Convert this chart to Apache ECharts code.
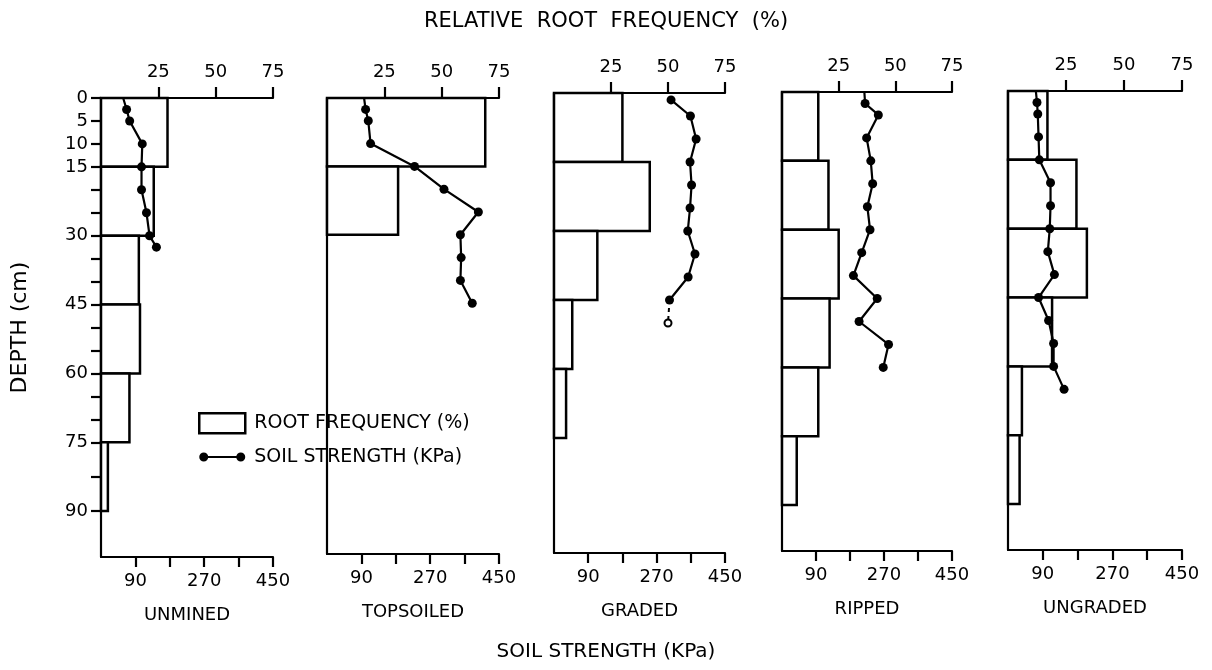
<!DOCTYPE html>
<html>
<head>
<meta charset="utf-8">
<script src="https://cdn.jsdelivr.net/npm/echarts@6/dist/echarts.min.js"></script>
<style>html,body{margin:0;padding:0;background:#fff;}#c{width:1212px;height:670px;}</style>
</head>
<body>
<div id="c"></div>
<script>
// ---------- DATA ----------
const panels = ['UNMINED', 'TOPSOILED', 'GRADED', 'RIPPED', 'UNGRADED'];
const depthBins = [0, 15, 30, 45, 60, 75, 90];          // cm, root-frequency layer bounds
const rootUnmined   = [29, 23, 16.5, 17, 12.4, 3];
const rootTopsoiled = [69, 31];
const rootGraded    = [30, 42, 19, 8, 5.3];
const rootRipped    = [16, 20.5, 25, 21, 16, 6.5];
const rootUngraded  = [17, 29.5, 34, 19, 6, 5];

const soilDepthUnmined = [0, 2.5, 5, 10, 15, 20, 25, 30, 32.5];
const soilUnmined      = [58, 67, 75, 108, 106, 106, 119, 127, 145];
const soilDepthTopsoiled = [0, 2.5, 5, 10, 15, 20, 25, 30, 35, 40, 45];
const soilTopsoiled      = [97, 101, 108, 114, 229, 306, 396, 349, 351, 349, 380];
const soilDepthGraded = [1.5, 5, 10, 15, 20, 25, 30, 35, 40, 45];
const soilGraded      = [308, 359, 374, 358, 362, 358, 352, 371, 353, 304];
const gradedTailDepth = [45, 50];
const gradedTailSoil  = [304, 300];
const soilDepthRipped = [0, 2.5, 5, 10, 15, 20, 25, 30, 35, 40, 45, 50, 55, 60];
const soilRipped      = [218, 220, 255, 224, 235, 240, 226, 233, 211, 189, 252, 204, 282, 268];
const soilDepthUngraded = [0, 2.5, 5, 10, 15, 20, 25, 30, 35, 40, 45, 50, 55, 60, 65];
const soilUngraded      = [72, 75, 77, 79, 81, 110, 110, 108, 103, 120, 79, 105, 118, 118, 145];

const rootTicks = [25, 50, 75];
const soilTicks = [90, 180, 270, 360, 450];
const soilLabels = [90, 270, 450];
const depthTicks = [0, 5, 10, 15, 20, 25, 30, 35, 40, 45, 50, 55, 60, 65, 70, 75, 82.5, 90];
const depthLabels = [0, 5, 10, 15, 30, 45, 60, 75, 90];

const rootAll = [rootUnmined, rootTopsoiled, rootGraded, rootRipped, rootUngraded];
const soilAll = [soilUnmined, soilTopsoiled, soilGraded, soilRipped, soilUngraded];
const soilDepthAll = [soilDepthUnmined, soilDepthTopsoiled, soilDepthGraded, soilDepthRipped, soilDepthUngraded];

// ---------- LAYOUT ----------
const FONT = 'DejaVu Sans';
const gridLeft  = [101, 327, 554, 782, 1008];
const gridWidth = [172, 172, 171, 170, 174];
const gridTop   = [98, 98, 93, 92, 91];
const gridBot   = [557, 554, 553, 551, 550];

const ROOT_NAME = 'ROOT FREQUENCY (%)';
const SOIL_NAME = 'SOIL STRENGTH (KPa)';

const grid = [], xAxis = [], yAxis = [], series = [];
const axisLine = { show: true, onZero: false, lineStyle: { color: '#000', width: 2.2 } };

function renderBar(params, api) {
  const a = api.coord([0, api.value(0)]);
  const b = api.coord([api.value(2), api.value(1)]);
  return {
    type: 'rect',
    shape: { x: a[0], y: a[1], width: b[0] - a[0], height: b[1] - a[1] },
    style: { fill: '#fff', stroke: '#000', lineWidth: 2.5 }
  };
}

panels.forEach((p, i) => {
  grid.push({ left: gridLeft[i], top: gridTop[i], width: gridWidth[i], height: gridBot[i] - gridTop[i] });
  // top axis: relative root frequency
  xAxis.push({
    type: 'value', gridIndex: i, position: 'top', min: 0, max: 75,
    axisLine: axisLine,
    axisTick: { show: true, customValues: rootTicks, length: 11, lineStyle: { color: '#000', width: 2.2 } },
    axisLabel: { show: true, customValues: rootTicks, color: '#000', fontSize: 18, fontFamily: FONT, margin: 17 },
    splitLine: { show: false }
  });
  // bottom axis: soil strength
  xAxis.push({
    type: 'value', gridIndex: i, position: 'bottom', min: 0, max: 450,
    name: p, nameLocation: 'middle', nameGap: 49,
    nameTextStyle: { color: '#000', fontSize: 18, fontFamily: FONT },
    axisLine: axisLine,
    axisTick: { show: true, customValues: soilTicks, length: 10, lineStyle: { color: '#000', width: 2.2 } },
    axisLabel: { show: true, customValues: soilLabels, color: '#000', fontSize: 18, fontFamily: FONT, margin: 15 },
    splitLine: { show: false }
  });
  yAxis.push({
    type: 'value', gridIndex: i, inverse: true, min: 0, max: 100,
    name: i === 0 ? 'DEPTH (cm)' : '', nameLocation: 'middle', nameRotate: 90, nameGap: 70,
    nameTextStyle: { color: '#000', fontSize: 22, fontFamily: FONT },
    axisLine: axisLine,
    axisTick: { show: i === 0, customValues: depthTicks, length: 10, lineStyle: { color: '#000', width: 2.2 } },
    axisLabel: { show: i === 0, customValues: depthLabels, color: '#000', fontSize: 18, fontFamily: FONT, margin: 13 },
    splitLine: { show: false }
  });

  const bars = rootAll[i].map((v, j) => [depthBins[j], depthBins[j + 1], v]);
  series.push({
    type: 'custom', name: ROOT_NAME, xAxisIndex: 2 * i, yAxisIndex: i,
    renderItem: renderBar, data: bars, encode: { x: 2, y: [0, 1] }, z: 2, silent: true
  });

  const pts = soilDepthAll[i].map((d, j) => ({
    value: [soilAll[i][j], d], symbol: d === 0 ? 'none' : 'circle'
  }));
  series.push({
    type: 'line', name: SOIL_NAME, xAxisIndex: 2 * i + 1, yAxisIndex: i,
    data: pts, symbolSize: 9, itemStyle: { color: '#000' },
    lineStyle: { color: '#000', width: 2.2 }, z: 5, silent: true, animation: false
  });
});

// graded: dashed tail to an open point
series.push({
  type: 'line', name: 'tail', xAxisIndex: 5, yAxisIndex: 2,
  data: gradedTailDepth.map((d, j) => ({ value: [gradedTailSoil[j], d], symbol: j === 0 ? 'none' : 'emptyCircle' })),
  symbolSize: 7, itemStyle: { color: '#000', borderWidth: 2 },
  lineStyle: { color: '#000', width: 2, type: [4, 4] }, z: 5, silent: true
});

const option = {
  animation: false,
  backgroundColor: '#fff',
  textStyle: { fontFamily: FONT },
  title: [
    { text: 'RELATIVE  ROOT  FREQUENCY  (%)', left: 'center', top: 6,
      textStyle: { color: '#000', fontSize: 21, fontWeight: 'normal', fontFamily: FONT } },
    { text: 'SOIL STRENGTH (KPa)', left: 'center', top: 637,
      textStyle: { color: '#000', fontSize: 20, fontWeight: 'normal', fontFamily: FONT } }
  ],
  legend: {
    orient: 'vertical', left: 193, top: 407, itemWidth: 46, itemHeight: 20, itemGap: 13,
    selectedMode: false,
    textStyle: { color: '#000', fontSize: 19, fontFamily: FONT, padding: [0, 0, 0, 4] },
    data: [
      { name: ROOT_NAME, icon: 'rect', itemStyle: { color: '#fff', borderColor: '#000', borderWidth: 2.5 } },
      { name: SOIL_NAME,
        icon: 'path://M0,5A4.5,4.5 0 1,1 9,5A4.5,4.5 0 1,1 0,5Z M37,5A4.5,4.5 0 1,1 46,5A4.5,4.5 0 1,1 37,5Z M8.5,3.9L37.5,3.9L37.5,6.1L8.5,6.1Z',
        itemStyle: { color: '#000', borderWidth: 0 } }
    ]
  },
  grid: grid, xAxis: xAxis, yAxis: yAxis, series: series
};

const chart = echarts.init(document.getElementById('c'), null, { renderer: 'canvas' });
chart.setOption(option);
</script>
</body>
</html>
